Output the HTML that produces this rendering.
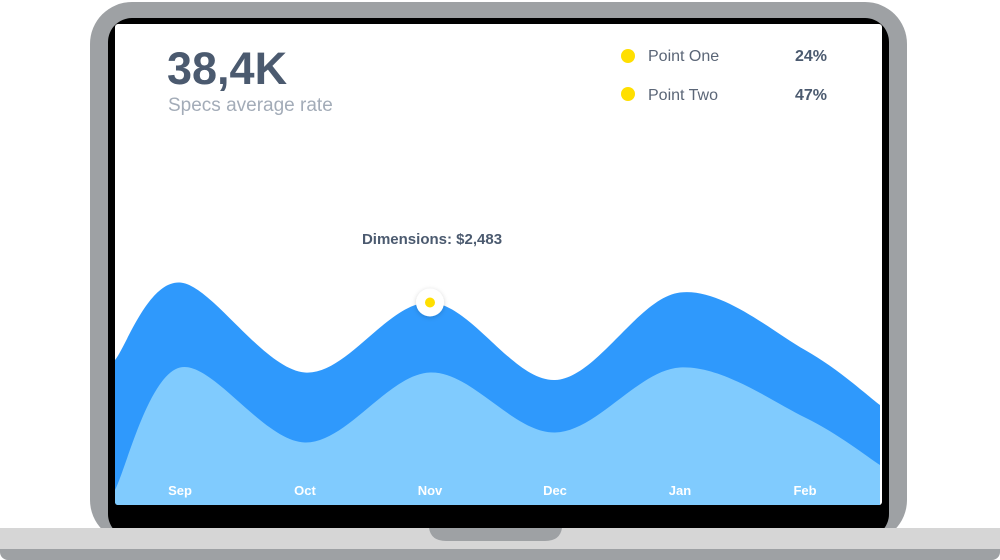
<!DOCTYPE html>
<html><head><meta charset="utf-8"><style>
html,body{margin:0;padding:0;width:1000px;height:560px;overflow:hidden;background:#fff;font-family:"Liberation Sans",sans-serif}
</style></head><body>
<svg id="chart" width="1000" height="560" viewBox="0 0 1000 560" xmlns="http://www.w3.org/2000/svg">
<defs>
<clipPath id="scr"><rect x="115" y="24" width="767" height="481" rx="3"/></clipPath>
<filter id="sh" x="-50%" y="-50%" width="200%" height="200%"><feDropShadow dx="0" dy="1" stdDeviation="2.5" flood-color="#000" flood-opacity="0.18"/></filter>
</defs>
<rect x="90" y="2" width="817" height="540" rx="42" fill="#9ea1a4"/>
<rect x="108" y="18" width="781" height="520" rx="24" fill="#000"/>
<rect x="115" y="24" width="767" height="481" rx="3" fill="#fff"/>
<rect x="0" y="538" width="1000" height="22" rx="8" fill="#9ea1a4"/>
<rect x="0" y="528" width="1000" height="21" fill="#d6d6d6"/>
<path d="M429 528 H562 Q560 541 545 541 H446 Q431 541 429 528 Z" fill="#9ea1a4"/>
<g id="areas" clip-path="url(#scr)"></g>
<g id="labels"></g>
<text x="167" y="84" font-size="45" font-weight="bold" fill="#4b5a6f">38,4K</text>
<text x="168" y="111" font-size="19" fill="#a3acb8">Specs average rate</text>
<g>
<circle cx="628" cy="56" r="7" fill="#ffdf00"/>
<text x="648" y="61" font-size="16" fill="#5b6677">Point One</text>
<text x="795" y="61" font-size="16" font-weight="bold" fill="#4b5a6f">24%</text>
<circle cx="628" cy="94" r="7" fill="#ffdf00"/>
<text x="648" y="100" font-size="16" fill="#5b6677">Point Two</text>
<text x="795" y="100" font-size="16" font-weight="bold" fill="#4b5a6f">47%</text>
</g>
<text x="432" y="244" font-size="15" font-weight="bold" fill="#4b5a6f" text-anchor="middle">Dimensions: $2,483</text>
<g id="marker"></g>
</svg>
<script>
const months = ["Sep","Oct","Nov","Dec","Jan","Feb"];
const positions = [-0.52, 0, 1, 2, 3, 4, 5, 5.6];
const darkValues = [58, 89, 53, 81, 50, 85, 62, 40];
const lightValues = [6, 55, 25, 53, 29, 55, 35, 16];
const highlightIndex = 3;
const NS = "http://www.w3.org/2000/svg";
const xS = i => 180 + 125 * i;
const yS = v => 505 - v * 2.5;
function pathFor(vals){
  const p = positions.map((t,k)=>[xS(t), yS(vals[k])]);
  let d = "M" + p[0][0] + " 510 L" + p[0][0] + " " + p[0][1];
  for(let k=0;k<p.length-1;k++){
    const p0=p[Math.max(0,k-1)],p1=p[k],p2=p[k+1],p3=p[Math.min(p.length-1,k+2)];
    const c1=[p1[0]+(p2[0]-p0[0])/6,p1[1]+(p2[1]-p0[1])/6];
    const c2=[p2[0]-(p3[0]-p1[0])/6,p2[1]-(p3[1]-p1[1])/6];
    d+=" C"+c1[0]+" "+c1[1]+" "+c2[0]+" "+c2[1]+" "+p2[0]+" "+p2[1];
  }
  d+=" L"+p[p.length-1][0]+" 510 Z";
  return d;
}
const g=document.getElementById("areas");
const a1=document.createElementNS(NS,"path");


a1.setAttribute("d",pathFor(darkValues));a1.setAttribute("fill","#2f99fc");g.appendChild(a1);
const a2=document.createElementNS(NS,"path");


a2.setAttribute("d",pathFor(lightValues));a2.setAttribute("fill","#80cbfe");g.appendChild(a2);
const lg=document.getElementById("labels");
months.forEach((m,i)=>{
  const t=document.createElementNS(NS,"text");
  
  
  t.setAttribute("x",xS(i));t.setAttribute("y",495);t.setAttribute("text-anchor","middle");
  t.setAttribute("font-size","13");t.setAttribute("font-weight","bold");t.setAttribute("fill","#fff");
  t.textContent=m;lg.appendChild(t);
});
const mg=document.getElementById("marker");
const mx=xS(positions[highlightIndex]), my=yS(darkValues[highlightIndex]);
const c1=document.createElementNS(NS,"circle");


c1.setAttribute("cx",mx);c1.setAttribute("cy",my);c1.setAttribute("r",14);c1.setAttribute("fill","#fff");c1.setAttribute("filter","url(#sh)");mg.appendChild(c1);
const c2=document.createElementNS(NS,"circle");


c2.setAttribute("cx",mx);c2.setAttribute("cy",my);c2.setAttribute("r",5);c2.setAttribute("fill","#ffdf00");mg.appendChild(c2);
</script>
</body></html>
